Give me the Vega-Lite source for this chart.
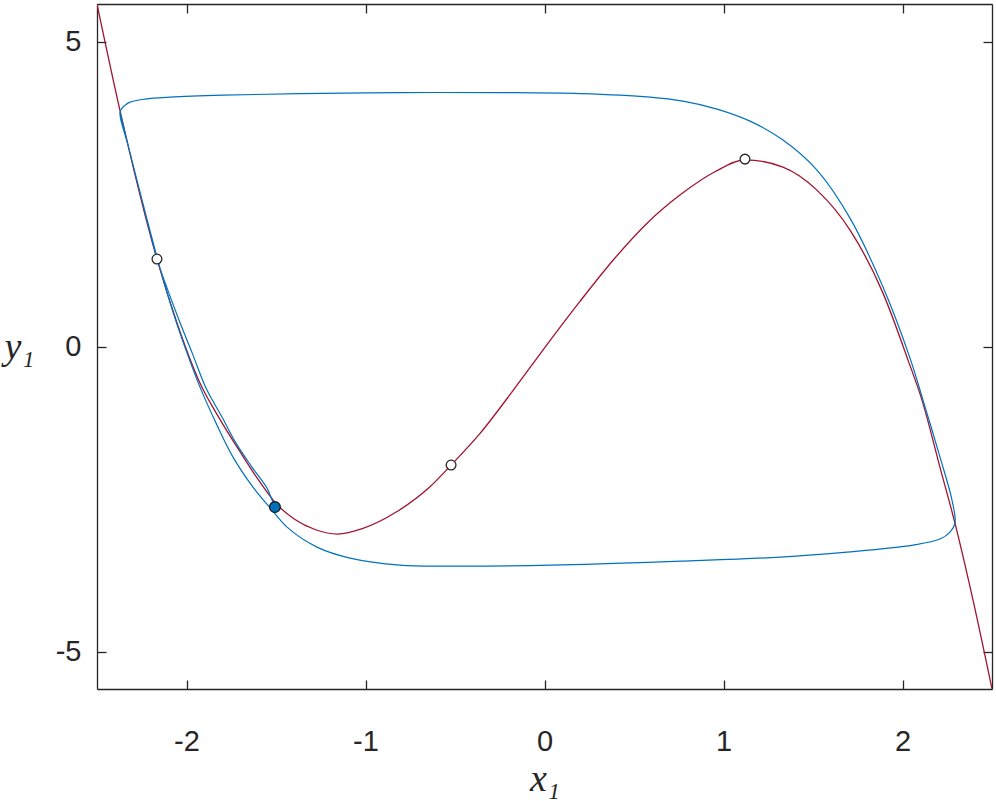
{
  "$schema": "https://vega.github.io/schema/vega-lite/v6.json",
  "width": 895,
  "height": 685,
  "autosize": {"type": "none"},
  "padding": {"left": 97, "top": 4, "right": 4, "bottom": 112},
  "background": "white",
  "config": {
    "view": {"stroke": null},
    "axis": {
      "grid": false,
      "domainColor": "#262626",
      "domainWidth": 1.3,
      "tickColor": "#262626",
      "tickWidth": 1.3,
      "tickSize": -9,
      "labelFont": "Liberation Sans",
      "labelFontSize": 29,
      "labelColor": "#262626",
      "labelExpr": "datum.value < 0 ? '-' + abs(datum.value) : '' + datum.value",
      "titleFont": "Liberation Serif",
      "titleFontStyle": "italic",
      "titleFontWeight": "normal",
      "titleFontSize": 38,
      "titleColor": "#262626"
    }
  },
  "datasets": {
    "red": [
      {"x": -2.5, "y": 5.618},
      {"x": -2.372, "y": 3.88},
      {"x": -2.165, "y": 1.438},
      {"x": -2.053, "y": 0.389},
      {"x": -1.925, "y": -0.595},
      {"x": -1.813, "y": -1.19},
      {"x": -1.701, "y": -1.72},
      {"x": -1.601, "y": -2.17},
      {"x": -1.500, "y": -2.569},
      {"x": -1.394, "y": -2.831},
      {"x": -1.282, "y": -2.995},
      {"x": -1.154, "y": -3.07},
      {"x": -1.014, "y": -2.977},
      {"x": -0.826, "y": -2.705},
      {"x": -0.640, "y": -2.295},
      {"x": -0.522, "y": -1.939},
      {"x": -0.360, "y": -1.420},
      {"x": -0.174, "y": -0.710},
      {"x": 0.012, "y": 0.028},
      {"x": 0.198, "y": 0.744},
      {"x": 0.383, "y": 1.419},
      {"x": 0.573, "y": 2.027},
      {"x": 0.762, "y": 2.5},
      {"x": 0.952, "y": 2.87},
      {"x": 1.12, "y": 3.066},
      {"x": 1.332, "y": 2.946},
      {"x": 1.522, "y": 2.569},
      {"x": 1.707, "y": 1.913},
      {"x": 1.891, "y": 0.88},
      {"x": 2.031, "y": -0.218},
      {"x": 2.109, "y": -0.874},
      {"x": 2.209, "y": -1.972},
      {"x": 2.293, "y": -2.89},
      {"x": 2.394, "y": -4.152},
      {"x": 2.5, "y": -5.607}
    ],
    "blue": [
      {"i": 1, "x": -1.5056, "y": -2.628},
      {"i": 2, "x": -1.5223, "y": -2.513},
      {"i": 3, "x": -1.5503, "y": -2.316},
      {"i": 4, "x": -1.6341, "y": -1.972},
      {"i": 5, "x": -1.7235, "y": -1.579},
      {"i": 6, "x": -1.8017, "y": -1.152},
      {"i": 7, "x": -1.8911, "y": -0.677},
      {"i": 8, "x": -1.9637, "y": -0.136},
      {"i": 9, "x": -2.0419, "y": 0.438},
      {"i": 10, "x": -2.1145, "y": 1.011},
      {"i": 11, "x": -2.1592, "y": 1.389},
      {"i": 12, "x": -2.2598, "y": 2.536},
      {"i": 13, "x": -2.3268, "y": 3.307},
      {"i": 14, "x": -2.3715, "y": 3.848},
      {"i": 15, "x": -2.3492, "y": 3.946},
      {"i": 16, "x": -2.3156, "y": 4.011},
      {"i": 17, "x": -2.2318, "y": 4.061},
      {"i": 18, "x": -2.0922, "y": 4.093},
      {"i": 19, "x": -1.7961, "y": 4.126},
      {"i": 20, "x": -1.3659, "y": 4.151},
      {"i": 21, "x": -0.8073, "y": 4.167},
      {"i": 22, "x": -0.2486, "y": 4.167},
      {"i": 23, "x": 0.1983, "y": 4.151},
      {"i": 24, "x": 0.5894, "y": 4.093},
      {"i": 25, "x": 0.7737, "y": 4.027},
      {"i": 26, "x": 0.9637, "y": 3.897},
      {"i": 27, "x": 1.148, "y": 3.700},
      {"i": 28, "x": 1.3324, "y": 3.389},
      {"i": 29, "x": 1.5223, "y": 2.897},
      {"i": 30, "x": 1.7067, "y": 2.110},
      {"i": 31, "x": 1.8911, "y": 0.979},
      {"i": 32, "x": 2.0419, "y": -0.185},
      {"i": 33, "x": 2.1145, "y": -0.874},
      {"i": 34, "x": 2.2095, "y": -1.808},
      {"i": 35, "x": 2.2765, "y": -2.513},
      {"i": 36, "x": 2.2933, "y": -2.89},
      {"i": 37, "x": 2.2654, "y": -3.038},
      {"i": 38, "x": 2.2095, "y": -3.152},
      {"i": 39, "x": 2.0587, "y": -3.251},
      {"i": 40, "x": 1.6899, "y": -3.366},
      {"i": 41, "x": 1.3156, "y": -3.448},
      {"i": 42, "x": 0.757, "y": -3.513},
      {"i": 43, "x": 0.0419, "y": -3.579},
      {"i": 44, "x": -0.5279, "y": -3.595},
      {"i": 45, "x": -0.8073, "y": -3.579},
      {"i": 46, "x": -1.0866, "y": -3.464},
      {"i": 47, "x": -1.2709, "y": -3.284},
      {"i": 48, "x": -1.4385, "y": -2.956},
      {"i": 49, "x": -1.5223, "y": -2.677},
      {"i": 50, "x": -1.6285, "y": -2.3},
      {"i": 51, "x": -1.7402, "y": -1.808},
      {"i": 52, "x": -1.8296, "y": -1.284},
      {"i": 53, "x": -1.9246, "y": -0.661},
      {"i": 54, "x": -2.0028, "y": -0.054},
      {"i": 55, "x": -2.0698, "y": 0.52},
      {"i": 56, "x": -2.148, "y": 1.29},
      {"i": 57, "x": -2.2598, "y": 2.536},
      {"i": 58, "x": -2.3268, "y": 3.307},
      {"i": 59, "x": -2.3715, "y": 3.848}
    ],
    "open": [
      {"x": -2.165, "y": 1.438},
      {"x": -0.522, "y": -1.939},
      {"x": 1.12, "y": 3.077}
    ],
    "filled": [
      {"x": -1.506, "y": -2.628}
    ]
  },
  "layer": [
    {
      "data": {"name": "red"},
      "mark": {"type": "line", "color": "#A2142F", "strokeWidth": 1.3, "interpolate": "monotone", "clip": true},
      "encoding": {
        "x": {"field": "x", "type": "quantitative",
              "scale": {"domain": [-2.5, 2.5], "nice": false, "zero": false},
              "axis": {"orient": "bottom", "values": [-2, -1, 0, 1, 2], "labelPadding": 47, "title": "x₁",
                       "titleX": 447.5, "titleY": 90, "titleAlign": "center", "titleBaseline": "middle", "titleAnchor": null}},
        "y": {"field": "y", "type": "quantitative",
              "scale": {"domain": [-5.61, 5.62], "nice": false, "zero": false},
              "axis": {"orient": "left", "values": [-5, 0, 5], "labelPadding": 25, "title": "y₁",
                       "titleAngle": 0, "titleX": -93, "titleY": 343, "titleAlign": "left", "titleBaseline": "middle", "titleAnchor": null}}
      }
    },
    {
      "data": {"name": "blue"},
      "mark": {"type": "line", "color": "#0072BD", "strokeWidth": 1.2, "interpolate": "catmull-rom", "clip": true},
      "encoding": {
        "x": {"field": "x", "type": "quantitative",
              "axis": {"orient": "top", "values": [-2, -1, 0, 1, 2], "labels": false, "title": null}},
        "y": {"field": "y", "type": "quantitative",
              "axis": {"orient": "right", "values": [-5, 0, 5], "labels": false, "title": null}},
        "order": {"field": "i", "type": "quantitative"}
      }
    },
    {
      "data": {"name": "open"},
      "mark": {"type": "point", "filled": true, "fill": "white", "stroke": "#262626", "strokeWidth": 1.3, "size": 95, "opacity": 1},
      "encoding": {
        "x": {"field": "x", "type": "quantitative", "axis": null},
        "y": {"field": "y", "type": "quantitative", "axis": null}
      }
    },
    {
      "data": {"name": "filled"},
      "mark": {"type": "point", "filled": true, "fill": "#0072BD", "stroke": "#1a1a1a", "strokeWidth": 1.3, "size": 115, "opacity": 1},
      "encoding": {
        "x": {"field": "x", "type": "quantitative", "axis": null},
        "y": {"field": "y", "type": "quantitative", "axis": null}
      }
    }
  ],
  "resolve": {"axis": {"x": "independent", "y": "independent"}}
}
